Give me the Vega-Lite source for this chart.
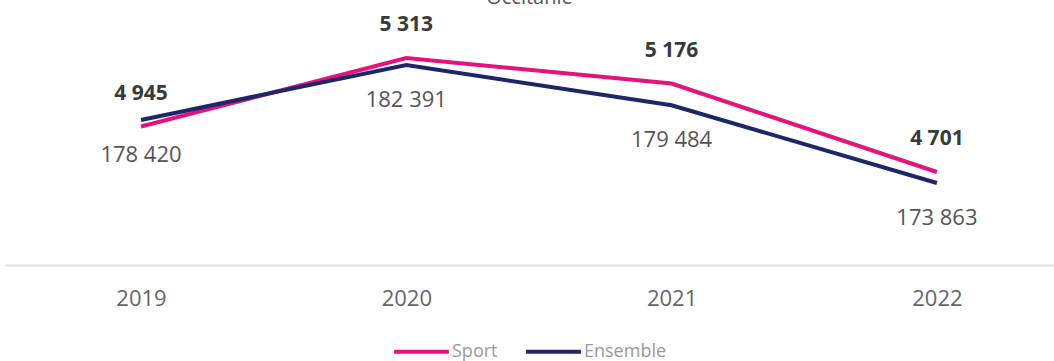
{
  "$schema": "https://vega.github.io/schema/vega-lite/v6.json",
  "width": 1049,
  "height": 251,
  "autosize": {"type": "none"},
  "padding": {"left": 5, "top": 14, "right": 0, "bottom": 96},
  "background": "white",
  "title": {
    "text": "Occitanie",
    "fontSize": 20,
    "font": "Open Sans",
    "fontWeight": "normal",
    "color": "#555555",
    "anchor": "middle",
    "baseline": "alphabetic",
    "offset": 0,
    "dy": 10
  },
  "config": {
    "view": {"stroke": null},
    "font": "Open Sans",
    "legend": {"layout": {"bottom": {"anchor": "middle"}}}
  },
  "data": {
    "values": [
      {"year": 2019, "series": "Sport", "value": 4945, "label": "4 945"},
      {"year": 2020, "series": "Sport", "value": 5313, "label": "5 313"},
      {"year": 2021, "series": "Sport", "value": 5176, "label": "5 176"},
      {"year": 2022, "series": "Sport", "value": 4701, "label": "4 701"},
      {"year": 2019, "series": "Ensemble", "value": 178420, "label": "178 420"},
      {"year": 2020, "series": "Ensemble", "value": 182391, "label": "182 391"},
      {"year": 2021, "series": "Ensemble", "value": 179484, "label": "179 484"},
      {"year": 2022, "series": "Ensemble", "value": 173863, "label": "173 863"}
    ]
  },
  "encoding": {
    "x": {
      "field": "year",
      "type": "quantitative",
      "scale": {"domain": [2018.4874, 2022.4414], "nice": false, "zero": false},
      "axis": {
        "title": null,
        "values": [2019, 2020, 2021, 2022],
        "format": "d",
        "grid": false,
        "ticks": false,
        "domain": true,
        "domainColor": "#e2e2e2",
        "domainWidth": 2,
        "labelFontSize": 22,
        "labelColor": "#666666",
        "labelPadding": 23,
        "labelFont": "Open Sans"
      }
    }
  },
  "layer": [
    {
      "transform": [{"filter": "datum.series === 'Sport'"}],
      "encoding": {
        "y": {
          "field": "value",
          "type": "quantitative",
          "scale": {"domain": [4202, 5549], "nice": false, "zero": false},
          "axis": null
        }
      },
      "layer": [
        {
          "mark": {"type": "line", "strokeWidth": 4},
          "encoding": {
            "color": {
              "field": "series",
              "type": "nominal",
              "scale": {"domain": ["Sport", "Ensemble"], "range": ["#E5127D", "#1D2768"]},
              "legend": {
                "title": null,
                "orient": "bottom",
                "direction": "horizontal",
                "symbolType": "stroke",
                "symbolSize": 3000,
                "symbolStrokeWidth": 4,
                "labelFontSize": 18,
                "labelColor": "#999999",
                "labelFont": "Open Sans",
                "labelOffset": 1,
                "columnPadding": 20,
                "offset": 13
              }
            }
          }
        },
        {
          "mark": {"type": "text", "fontSize": 21, "fontWeight": "bold", "color": "#3a3a3a", "dy": -33, "baseline": "middle", "font": "Open Sans"},
          "encoding": {"text": {"field": "label"}}
        }
      ]
    },
    {
      "transform": [{"filter": "datum.series === 'Ensemble'"}],
      "encoding": {
        "y": {
          "field": "value",
          "type": "quantitative",
          "scale": {"domain": [167937, 186077], "nice": false, "zero": false},
          "axis": null
        }
      },
      "layer": [
        {
          "mark": {"type": "line", "strokeWidth": 4},
          "encoding": {
            "color": {
              "field": "series",
              "type": "nominal",
              "scale": {"domain": ["Sport", "Ensemble"], "range": ["#E5127D", "#1D2768"]}
            }
          }
        },
        {
          "mark": {"type": "text", "fontSize": 22, "color": "#555555", "dy": 35, "baseline": "middle", "font": "Open Sans"},
          "encoding": {"text": {"field": "label"}}
        }
      ]
    }
  ],
  "resolve": {"scale": {"y": "independent"}}
}
